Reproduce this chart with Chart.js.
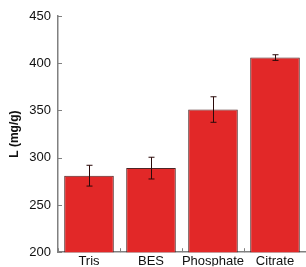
<!DOCTYPE html>
<html><head><meta charset="utf-8">
<script src="https://cdn.jsdelivr.net/npm/chart.js@4.4.0/dist/chart.umd.min.js"></script>
<style>html,body{margin:0;padding:0;background:#fff}#wrap{width:306px;height:267px}</style>
</head><body><div id="wrap"><canvas id="c" width="306" height="267"></canvas></div>
<script>
const categories = ["Tris", "BES", "Phosphate", "Citrate"];
const values = [281, 289, 351, 406];
const errors = [11, 11.5, 13.5, 3];
const yTicks = [200, 250, 300, 350, 400, 450];

const tickPlugin = {
  id: 'extras',
  afterDatasetsDraw(chart) {
    const ctx = chart.ctx;
    const xs = chart.scales.x, ys = chart.scales.y;
    const meta = chart.getDatasetMeta(0);
    ctx.save();
    ctx.strokeStyle = '#2a0a0a';
    ctx.lineWidth = 1;
    meta.data.forEach((bar, i) => {
      const x = Math.round(bar.x) + 0.5;
      const t = ys.getPixelForValue(values[i] + errors[i]);
      const b = ys.getPixelForValue(values[i] - errors[i]);
      ctx.beginPath();
      ctx.moveTo(x, t); ctx.lineTo(x, b);
      ctx.moveTo(x - 3, t); ctx.lineTo(x + 3, t);
      ctx.moveTo(x - 3, b); ctx.lineTo(x + 3, b);
      ctx.stroke();
    });
    ctx.strokeStyle = '#808080';
    ctx.lineWidth = 1;
    const left = chart.chartArea.left, bottom = chart.chartArea.bottom;
    yTicks.forEach(v => {
      const y = Math.round(ys.getPixelForValue(v)) + 0.5;
      ctx.beginPath(); ctx.moveTo(left, y); ctx.lineTo(left + 4, y); ctx.stroke();
    });
    const step = xs.getPixelForValue(1) - xs.getPixelForValue(0);
    for (let i = 0; i <= categories.length; i++) {
      const x = Math.round(xs.getPixelForValue(0) - step / 2 + i * step) + 0.5;
      ctx.beginPath(); ctx.moveTo(x, bottom); ctx.lineTo(x, bottom - 4); ctx.stroke();
    }
    ctx.restore();
  }
};

new Chart(document.getElementById('c'), {
  type: 'bar',
  data: {
    labels: categories,
    datasets: [{
      data: values,
      backgroundColor: '#E22828',
      borderColor: '#4e2424',
      borderWidth: 1,
      barPercentage: 0.8,
      categoryPercentage: 1.0
    }]
  },
  options: {
    responsive: false,
    animation: false,
    devicePixelRatio: 1,
    layout: { padding: { top: 16, right: 0, left: 0, bottom: 0 } },
    plugins: { legend: { display: false }, tooltip: { enabled: false } },
    scales: {
      x: {
        grid: { display: false, drawTicks: false },
        border: { display: true, color: '#808080', width: 1.5 },
        ticks: { color: '#111', font: { family: 'Liberation Sans', size: 13 }, padding: 1, maxRotation: 0, autoSkip: false },
        afterFit(s) { s.height = 14; }
      },
      y: {
        min: 200, max: 450,
        afterBuildTicks(s) { s.ticks = yTicks.map(v => ({ value: v })); },
        grid: { display: false, drawTicks: false },
        border: { display: true, color: '#808080', width: 1.5 },
        ticks: { color: '#111', font: { family: 'Liberation Sans', size: 13 }, padding: 7 },
        title: { display: true, text: 'L (mg/g)', color: '#111', font: { family: 'Liberation Sans', size: 12, weight: 'bold' }, padding: { top: 7, bottom: 0 } },
        afterFit(s) { s.width = 58; }
      }
    }
  },
  plugins: [tickPlugin]
});
</script></body></html>
